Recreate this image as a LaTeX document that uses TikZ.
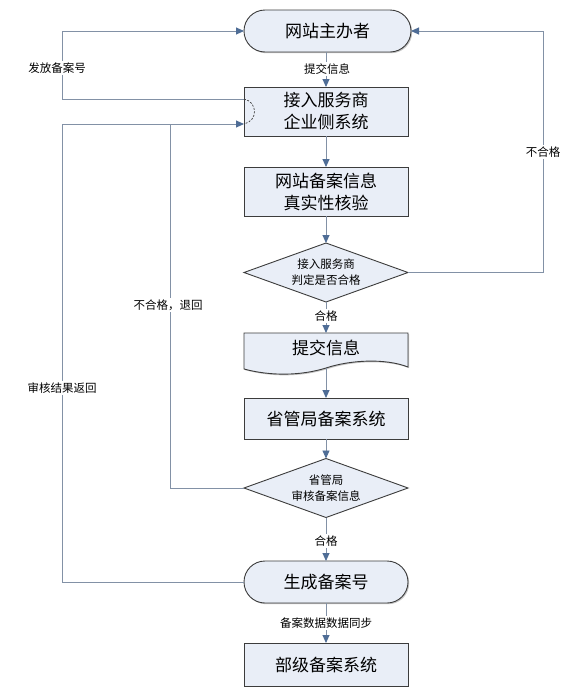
\documentclass[tikz,border=0pt]{standalone}
\usepackage{fontspec}
\setmainfont{Noto Sans CJK SC}
\usetikzlibrary{arrows.meta,shapes.misc,shapes.geometric,shadows}
\definecolor{boxfill}{HTML}{E9EEF7}
\definecolor{boxline}{HTML}{3C3C3C}
\definecolor{conn}{HTML}{8291A6}
\definecolor{tipc}{HTML}{4F6D96}
\begin{document}
\begin{tikzpicture}[x=1pt,y=-1pt,
  every node/.style={inner sep=0pt,outer sep=0pt},
  boxshape/.style={draw=boxline,fill=boxfill,line width=0.9pt,
    drop shadow={shadow xshift=1.2pt,shadow yshift=-1.2pt,fill=gray!55,opacity=0.8},
    align=center,font=\fontsize{17}{22}\selectfont,minimum width=164pt},
  procbox/.style={boxshape,rectangle},
  termbox/.style={boxshape,rounded rectangle,minimum width=167pt,minimum height=42pt},
  decbox/.style={draw=boxline,fill=boxfill,line width=0.9pt,diamond,aspect=2.8,
    align=center,font=\fontsize{11.5}{16}\selectfont,minimum width=164pt,minimum height=59pt,inner sep=0pt},
  lbl/.style={fill=white,font=\fontsize{11.5}{14}\selectfont,inner sep=1.5pt},
  conline/.style={draw=conn,line width=0.9pt},
  arr/.style={conline,-{Triangle[length=8pt,width=7pt,fill=tipc,color=tipc]}}
]
\useasboundingbox (0,0) rectangle (572,691);
\fill[white] (0,0) rectangle (572,691);

% nodes
\node[termbox] (s1) at (327.5,31) {网站主办者};
\node[procbox,minimum height=49pt] (b2) at (326,111.5) {接入服务商\\企业侧系统};
\node[procbox,minimum height=49pt] (b3) at (326,191.5) {网站备案信息\\真实性核验};
\node[decbox] (d1) at (326,272.5) {接入服务商\\判定是否合格};
% document shape
\fill[gray!55,opacity=0.8,shift={(1.2,1.2)}] (244,333) -- (408,333) -- (408,367) .. controls (385,358) and (350,360) .. (326,368) .. controls (300,376) and (270,376) .. (244,369) -- cycle;
\draw[draw=boxline,fill=boxfill,line width=0.9pt] (244,333) -- (408,333) -- (408,367) .. controls (385,358) and (350,360) .. (326,368) .. controls (300,376) and (270,376) .. (244,369) -- cycle;
\node[font=\fontsize{17}{22}\selectfont] (doc) at (326,348) {提交信息};
\coordinate (doctop) at (326,333);
\coordinate (docbot) at (326,368);
\node[procbox,minimum height=41pt] (b5) at (326,418.5) {省管局备案系统};
\node[decbox] (d2) at (326,488) {省管局\\审核备案信息};
\node[termbox,minimum width=164pt] (s3) at (326,582) {生成备案号};
\node[procbox,minimum height=43pt] (b7) at (326,664.5) {部级备案系统};

% main vertical flow
\draw[arr] (s1.south -| b2.north) -- (b2.north);
\node[lbl] (l1) at (327,69) {提交信息};
\draw[arr] (b2) -- (b3);
\draw[arr] (b3) -- (d1);
\draw[arr] (d1) -- (doctop);
\node[lbl] (l2) at (326,316) {合格};
\draw[arr] (docbot) -- (b5);
\draw[arr] (b5) -- (d2);
\draw[arr] (d2) -- (s3);
\node[lbl] (l3) at (326,541) {合格};
\draw[arr] (s3) -- (b7);
\node[lbl] (l4) at (326,623) {备案数据数据同步};

% right loop: 不合格
\coordinate (rc) at (543,31);
\draw[arr] (d1.east) -| (rc) -- (s1.east);
\node[lbl] (l5) at (543,152) {不合格};

% left: 发放备案号
\coordinate (out2) at (244,99);
\coordinate (lc1) at (62,31);
\draw[arr] (out2) -| (lc1) -- (s1.west);
\node[lbl] (l6) at (57,68) {发放备案号};

% left: 审核结果返回
\coordinate (in2) at (244,124);
\coordinate (lc2) at (62,124);
\draw[arr] (s3.west) -| (lc2) -- (in2);
\node[lbl] (l7) at (62,388) {审核结果返回};

% 不合格，退回
\coordinate (jn) at (170,124);
\draw[conline] (d2.west) -| (jn);
\node[lbl] (l8) at (168,305) {不合格，退回};

% dashed hop
\draw[boxline,dashed,line width=0.7pt,dash pattern=on 2pt off 1.5pt] (out2) .. controls (258,102) and (258,121) .. (in2);
\end{tikzpicture}
\end{document}
